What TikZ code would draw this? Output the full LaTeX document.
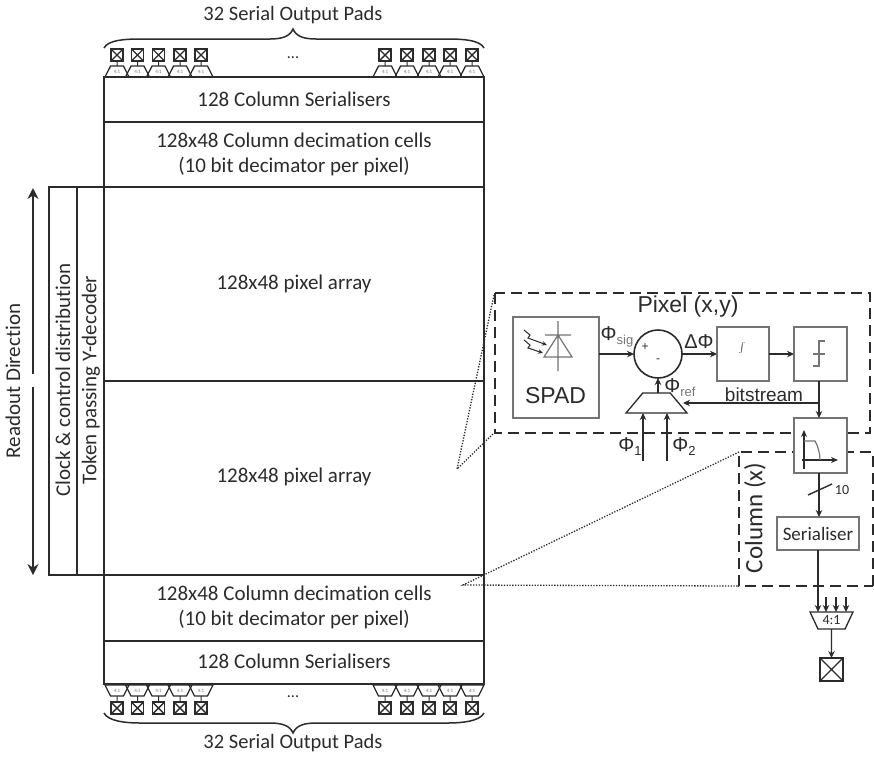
\documentclass[tikz,border=0pt]{standalone}
\usepackage{fontspec}
\setmainfont[Ligatures=NoCommon]{Carlito}
\newfontfamily\arialf{Liberation Sans}
\usetikzlibrary{arrows.meta,shapes.geometric}
\definecolor{ink}{HTML}{2B2B2B}
\definecolor{boxgrey}{HTML}{747474}
\tikzset{
  every node/.style={text=ink,inner sep=0pt,outer sep=0pt},
  arr/.style={-{Stealth[length=7pt,width=6.5pt]},line width=1.4pt,color=ink},
  plain/.style={line width=1.4pt,color=ink},
  band/.style={draw=ink,line width=1.6pt,rectangle},
  lbl/.style={font=\fontsize{21}{25}\selectfont,align=center},
  detail/.style={draw=boxgrey,line width=1.3pt,rectangle,fill=white},
  arl/.style={font=\arialf\fontsize{20}{22}\selectfont},
  dash box/.style={draw=ink,line width=1.6pt,dash pattern=on 11pt off 6pt},
  dots/.style={draw=ink,line width=1.3pt,dash pattern=on 1.3pt off 1.5pt},
  padbox/.style={draw=ink,line width=1.7pt,rectangle,minimum width=12pt,minimum height=12pt,
    path picture={\draw[ink,line width=1.4pt] (path picture bounding box.north west)--(path picture bounding box.south east)
      (path picture bounding box.north east)--(path picture bounding box.south west);}},
  smux/.style={draw=ink,line width=1.3pt,trapezium,trapezium stretches=true,minimum width=24pt,minimum height=11pt,
    trapezium left angle=50,trapezium right angle=50,font=\fontsize{5}{5}\selectfont},
}
\begin{document}
\begin{tikzpicture}[x=1pt,y=-1pt]
\useasboundingbox (0,0) rectangle (874,756);
% main column bands
\node[band,minimum width=380pt,minimum height=45pt] (ser1) at (294,99.5) {};
\node[band,minimum width=380pt,minimum height=65pt] (dec1) at (294,154.5) {};
\node[band,minimum width=380pt,minimum height=194pt] (arr1) at (294,284) {};
\node[band,minimum width=380pt,minimum height=194pt] (arr2) at (294,478) {};
\node[band,minimum width=380pt,minimum height=66pt] (dec2) at (294,608) {};
\node[band,minimum width=380pt,minimum height=43pt] (ser2) at (294,662.5) {};
\node[band,minimum width=28pt,minimum height=388pt] (clk) at (63,381) {};
\node[band,minimum width=27pt,minimum height=388pt] (tok) at (90.5,381) {};
\node[lbl] at (294,99) {128 Column Serialisers};
\node[lbl] at (294,154.5) {128x48 Column decimation cells\\(10 bit decimator per pixel)};
\node[lbl] at (294,284) {128x48 pixel array};
\node[lbl] at (294,477) {128x48 pixel array};
\node[lbl] at (294,607) {128x48 Column decimation cells\\(10 bit decimator per pixel)};
\node[lbl] at (294,661) {128 Column Serialisers};
\node[lbl,rotate=90] at (63,380) {Clock \& control distribution};
\node[lbl,rotate=90] at (91,380) {Token passing Y-decoder};
\node[lbl,rotate=90] at (13,381) {Readout Direction};
\coordinate (rt) at (33,188); \coordinate (rb) at (33,575);
\coordinate (rm1) at (33,374); \coordinate (rm2) at (33,387);
\draw[-{Stealth[length=11pt,width=11pt]},line width=1.4pt,ink] (rm1)--(rt);
\draw[-{Stealth[length=11pt,width=11pt]},line width=1.4pt,ink] (rm2)--(rb);
% pads
\foreach \i/\x in {1/117,2/137.5,3/158.5,4/180,5/201,6/385,7/407,8/429,9/450,10/472}{
  \node[padbox] (pt\i) at (\x,55) {};
  \node[smux] (mt\i) at (\x,71.5) {\textcolor{boxgrey}{4:1}};
  \draw[plain,line width=1pt] (pt\i)--(mt\i);
  \node[padbox] (pb\i) at (\x,708) {};
  \node[smux,shape border rotate=180] (mb\i) at (\x,690.5) {\textcolor{boxgrey}{4:1}};
  \draw[plain,line width=1pt] (pb\i)--(mb\i);
}
\node[font=\fontsize{16}{16}\selectfont] at (293,58) {...};
\node[font=\fontsize{16}{16}\selectfont] at (293,697) {...};
\node[font=\fontsize{20.5}{24}\selectfont] (t1) at (293,15) {32 Serial Output Pads};
\node[font=\fontsize{20.5}{24}\selectfont] (t2) at (293,743) {32 Serial Output Pads};
\coordinate (bl1) at (104,48); \coordinate (br1) at (484,48);
\coordinate (bl2) at (104,713); \coordinate (br2) at (484,713);
\draw[plain,line width=1.5pt] (bl1) .. controls (108,40) and (125,39) .. (140,39) -- (270,39) .. controls (283,39) and (290,36) .. (293,29)
  .. controls (296,36) and (303,39) .. (316,39) -- (448,39) .. controls (463,39) and (480,40) .. (br1);
\draw[plain,line width=1.5pt] (bl2) .. controls (108,721) and (125,723) .. (140,723) -- (270,723) .. controls (283,723) and (290,726) .. (293,733)
  .. controls (296,726) and (303,723) .. (316,723) -- (448,723) .. controls (463,723) and (480,721) .. (br2);
% dotted zoom lines
\coordinate (d1) at (457,469); \coordinate (d2) at (494,295); \coordinate (d2b) at (494,433);
\coordinate (d3) at (463,585); \coordinate (d4) at (739,452);
\coordinate (d6) at (739,586);
\draw[dots] (d2)--(d1)--(d2b) (d4)--(d3)--(d6);
% dashed frames
\coordinate (pa) at (495,293); \coordinate (pb) at (870,433);
\draw[dash box] (pa) rectangle (pb);
\coordinate (ca) at (739,452); \coordinate (cb) at (873,586);
\draw[dash box] (cb)--(cb|-ca)--(ca)--(ca|-cb)--cycle;
\node[font=\arialf\fontsize{23}{24}\selectfont] at (688,307) {Pixel (x,y)};
\node[font=\fontsize{25}{25}\selectfont,rotate=90] at (755,518) {Column (x)};
% detail blocks
\node[detail,minimum width=86pt,minimum height=101pt] (spad) at (556,367.5) {};
\node[font=\arialf\fontsize{23}{24}\selectfont] at (555.5,396) {SPAD};
\node[draw=ink,circle,line width=1.6pt,minimum size=48pt,fill=white] (sum) at (658,354) {};
\node[font=\arialf\fontsize{12}{12}\selectfont] at (645,347) {+};
\node[font=\arialf\fontsize{12}{12}\selectfont] at (658,361) {-};
\node[detail,minimum width=52pt,minimum height=54pt] (intg) at (743,354) {};
\node[detail,minimum width=53pt,minimum height=54pt] (comp) at (820.5,354) {};
\node[detail,minimum width=53pt,minimum height=55pt] (filt) at (820.5,445.5) {};
\node[detail,minimum width=82pt,minimum height=33pt,font=\fontsize{19}{19}\selectfont] (ser) at (818,533.5) {Serialiser};
\node[draw=ink,line width=1.3pt,trapezium,trapezium stretches=true,minimum width=61pt,minimum height=20pt,
  trapezium left angle=61,trapezium right angle=61,fill=white] (pmux) at (656.5,403) {\phantom{x}};
\node[draw=ink,line width=1.3pt,trapezium,trapezium stretches=true,minimum width=43pt,minimum height=17pt,
  trapezium left angle=60,trapezium right angle=60,shape border rotate=180,fill=white,font=\fontsize{14}{14}\selectfont] (omux) at (831.5,620.5) {4:1};
\node[draw=ink,line width=1.3pt,rectangle,minimum width=23pt,minimum height=23pt,
  path picture={\draw[ink,line width=1.2pt] (path picture bounding box.north west)--(path picture bounding box.south east)
      (path picture bounding box.north east)--(path picture bounding box.south west);}] (opad) at (831.5,669.5) {};
% SPAD symbol
\draw[boxgrey,line width=1.2pt] (558,321)--(558,371) (545,335)--(571,335) (558,335)--(544,357)--(572,357)--cycle;
\draw[ink,line width=1pt,-{Stealth[length=5pt,width=4.5pt]}] (524,330)--(530,335)--(528,338)--(547,345);
\draw[ink,line width=1pt,-{Stealth[length=5pt,width=4.5pt]}] (524,340)--(530,345)--(528,348)--(543,353);
% integrator and comparator glyphs
\node[font=\fontsize{20}{20}\selectfont] at (742,348) {$\int$};
\draw[boxgrey,line width=1.2pt] (813,366)--(819,366)--(819,341)--(825,341) (813,354)--(825,354);
% filter glyph
\draw[ink,line width=1.1pt,-{Stealth[length=7pt,width=6pt]}] (804,469)--(804,430);
\draw[ink,line width=1.1pt,-{Stealth[length=7pt,width=6pt]}] (802,460)--(838,460);
\draw[boxgrey,line width=1.2pt] (804,441) -- (815,441) .. controls (818,446) and (820,454) .. (820,460);
% connectors
\draw[arr] (spad.east|-sum)--(sum.west);
\draw[arr] (sum.east)--(intg.west);
\draw[arr] (intg.east)--(comp.west);
\coordinate (fb) at (819,403);
\draw[plain] (comp.south-|fb)--(fb);
\draw[arr] (fb)--(fb|-filt.north);
\draw[arr] (fb)--(683,403);
\draw[arr] (pmux.north-|sum.south)--(sum.south);
\coordinate (ph1) at (643,461); \coordinate (ph2) at (667,461);
\draw[arr] (ph1)--(ph1|-pmux.south);
\draw[arr] (ph2)--(ph2|-pmux.south);
\draw[arr] (filt.south-|fb)--(fb|-ser.north);
\coordinate (sl1) at (808,495); \coordinate (sl2) at (832,484);
\draw[plain] (sl1)--(sl2);
\draw[arr] (ser.south)--(ser.south|-omux.north);
\foreach \x/\n in {826/a,836/b,846/c}{
  \coordinate (in\n) at (\x,597);
  \draw[arr] (in\n)--(\x,612);
}
\draw[arr] (omux.south)--(opad.north);
% detail labels
\node[arl] at (617,337) {Φ\raisebox{-4pt}{\fontsize{13}{13}\selectfont\color{boxgrey}sig}};
\node[arl] at (699,342) {ΔΦ};
\node[arl] at (680,388) {Φ\raisebox{-4pt}{\fontsize{13}{13}\selectfont\color{boxgrey}ref}};
\node[font=\arialf\fontsize{19}{20}\selectfont] at (764,395) {bitstream};
\node[arl] at (630,447) {Φ\raisebox{-4pt}{\fontsize{13}{13}\selectfont 1}};
\node[arl] at (684,447) {Φ\raisebox{-4pt}{\fontsize{13}{13}\selectfont 2}};
\node[font=\fontsize{14}{14}\selectfont] at (842,490) {10};
\end{tikzpicture}
\end{document}
